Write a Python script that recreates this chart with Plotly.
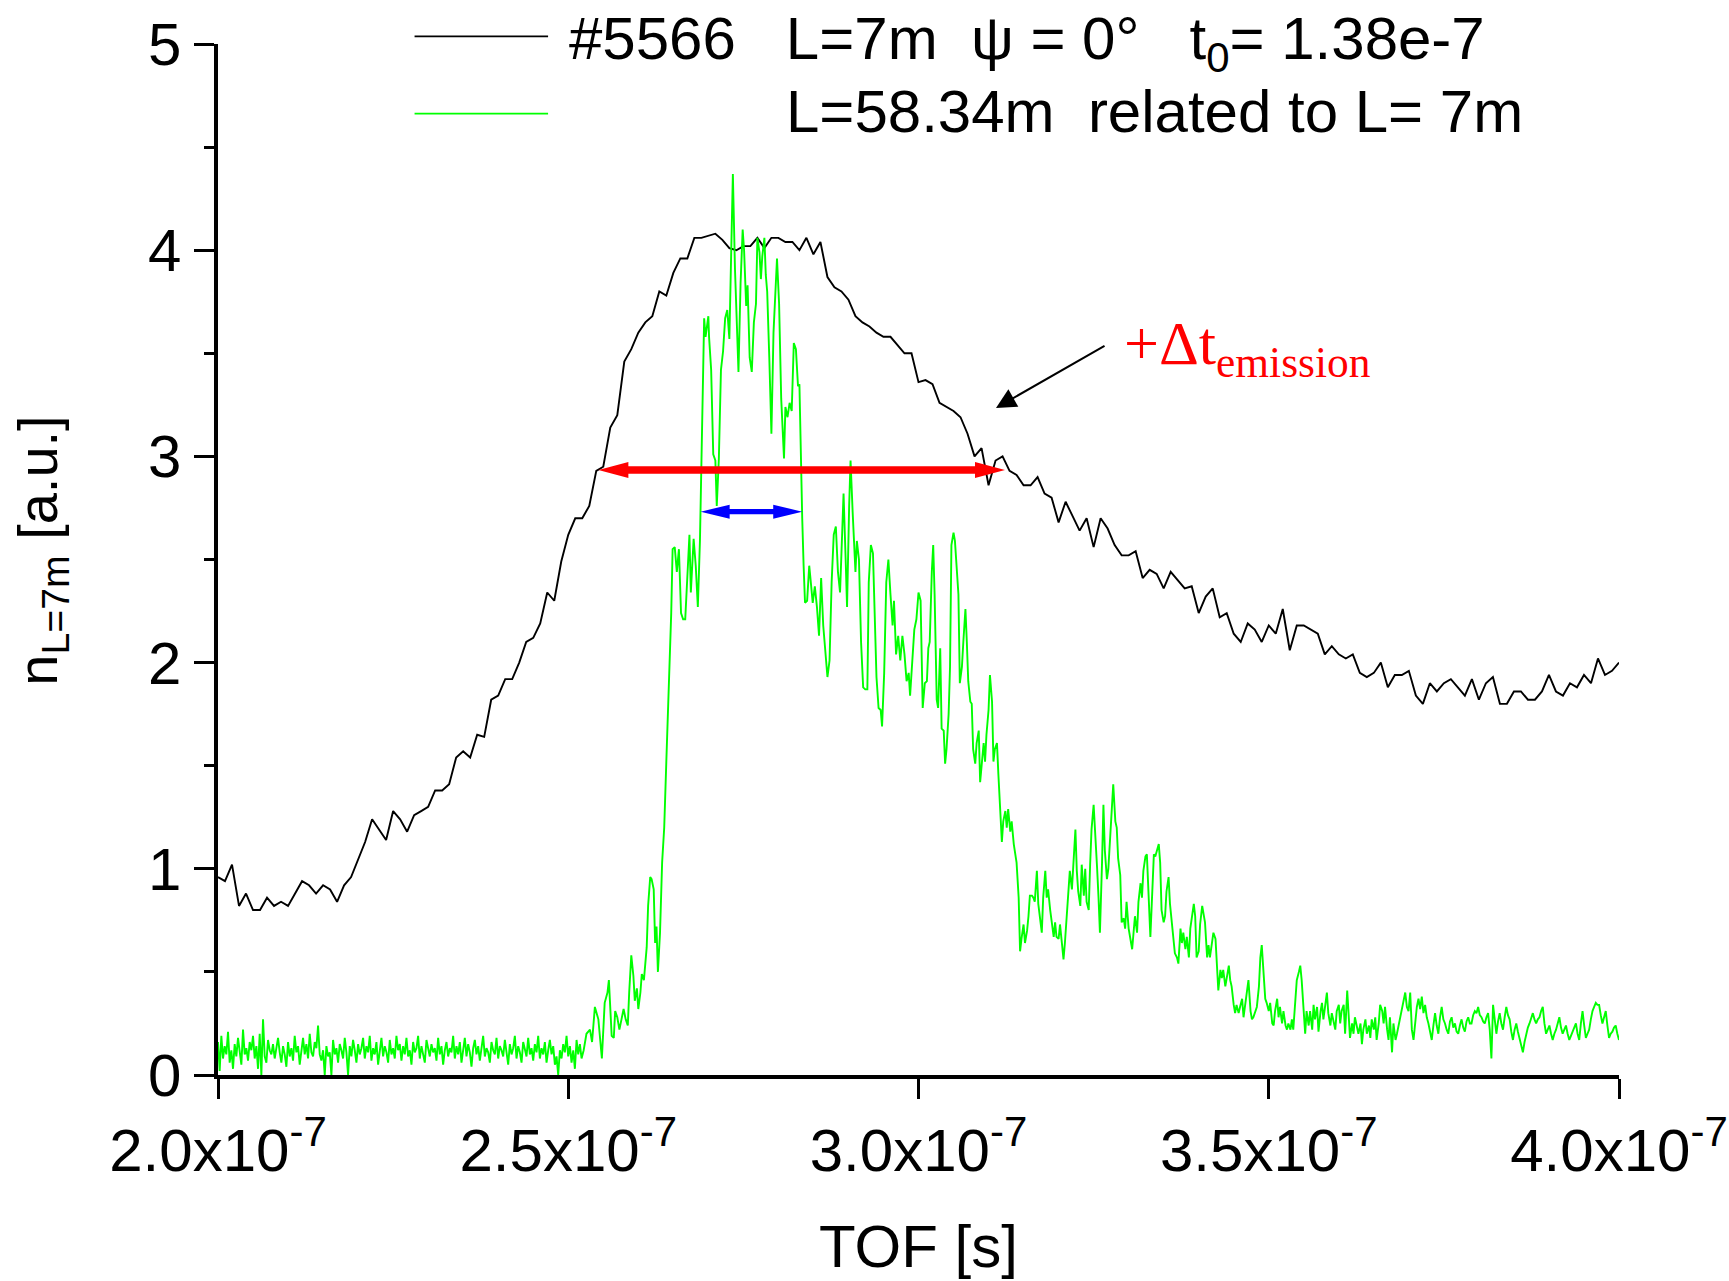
import numpy as np
import plotly.graph_objects as go

# ---------------- data (TOF in units of 1e-7 s) ----------------
# black curve: L = 7 m, sampled every 0.01e-7 s from 2.00e-7 to 4.00e-7 s
black_start, black_step = 2.00, 0.01
black_y = [
    0.96, 0.94, 1.02, 0.82, 0.88, 0.80, 0.80, 0.86, 0.82, 0.84,
    0.82, 0.88, 0.94, 0.92, 0.88, 0.92, 0.90, 0.84, 0.92, 0.96,
    1.05, 1.13, 1.24, 1.19, 1.14, 1.28, 1.24, 1.18, 1.26, 1.28,
    1.30, 1.38, 1.38, 1.41, 1.54, 1.57, 1.54, 1.65, 1.64, 1.82,
    1.84, 1.92, 1.92, 2.00, 2.10, 2.12, 2.19, 2.34, 2.30, 2.49,
    2.62, 2.70, 2.70, 2.76, 2.93, 2.95, 3.14, 3.20, 3.46, 3.52,
    3.60, 3.65, 3.68, 3.80, 3.78, 3.89, 3.96, 3.96, 4.06, 4.06,
    4.07, 4.08, 4.05, 4.01, 4.00, 4.02, 4.02, 4.06, 4.01, 4.06,
    4.06, 4.04, 4.04, 4.00, 4.06, 3.98, 4.04, 3.87, 3.82, 3.80,
    3.76, 3.68, 3.65, 3.63, 3.60, 3.58, 3.58, 3.54, 3.50, 3.50,
    3.36, 3.37, 3.35, 3.26, 3.24, 3.22, 3.19, 3.11, 3.00, 3.04,
    2.86, 2.98, 3.00, 2.93, 2.91, 2.86, 2.86, 2.90, 2.82, 2.80,
    2.68, 2.78, 2.71, 2.64, 2.70, 2.56, 2.70, 2.65, 2.57, 2.52,
    2.52, 2.54, 2.41, 2.45, 2.43, 2.36, 2.44, 2.40, 2.36, 2.37,
    2.24, 2.32, 2.36, 2.22, 2.24, 2.14, 2.10, 2.19, 2.16, 2.10,
    2.18, 2.14, 2.26, 2.06, 2.18, 2.18, 2.16, 2.14, 2.04, 2.08,
    2.04, 2.02, 2.04, 1.95, 1.93, 1.95, 2.00, 1.88, 1.94, 1.94,
    1.96, 1.84, 1.80, 1.90, 1.86, 1.90, 1.92, 1.88, 1.84, 1.92,
    1.82, 1.90, 1.93, 1.80, 1.80, 1.86, 1.86, 1.82, 1.82, 1.86,
    1.94, 1.86, 1.84, 1.90, 1.88, 1.94, 1.90, 2.02, 1.94, 1.96,
    2.00,
]

# green curve: L = 58.34 m related to L = 7 m
# flat part before the rise (2.000 - 2.519)
green_left_range = (2.000, 2.519)
green_left_y = [
    0.16, 0.02, 0.19, 0.08, 0.14, 0.10, 0.21, 0.06, 0.12, 0.03,
    0.15, 0.09, 0.18, 0.11, 0.05, 0.22, 0.10, 0.13, 0.07, 0.16,
    0.12, 0.19, 0.08, 0.14, 0.03, 0.20, 0.00, 0.27, 0.09, 0.06,
    0.17, 0.12, 0.10, 0.15, 0.08, 0.13, 0.18, 0.11, 0.06, 0.14,
    0.10, 0.04, 0.16, 0.09, 0.13, 0.07, 0.19, 0.11, 0.14, 0.05,
    0.12, 0.18, 0.10, 0.15, 0.08, 0.20, 0.11, 0.09, 0.16, 0.13,
    0.24, 0.10, 0.07, 0.12, 0.00, 0.14, 0.09, 0.11, 0.00, 0.17,
    0.10, 0.13, 0.06, 0.15, 0.12, 0.08, 0.18, 0.11, 0.00, 0.14,
    0.09, 0.17, 0.12, 0.06, 0.15, 0.10, 0.13, 0.18, 0.08, 0.14,
    0.11, 0.19, 0.07, 0.13, 0.10, 0.16, 0.05, 0.12, 0.18, 0.09,
    0.14, 0.11, 0.06, 0.17, 0.10, 0.13, 0.08, 0.19, 0.12, 0.15,
    0.07, 0.14, 0.10, 0.18, 0.09, 0.12, 0.05, 0.16, 0.11, 0.13,
    0.19, 0.08, 0.14, 0.10, 0.06, 0.17, 0.12, 0.09, 0.15, 0.11,
    0.13, 0.07, 0.18, 0.10, 0.14, 0.05, 0.12, 0.16, 0.09, 0.13,
    0.11, 0.19, 0.08, 0.14, 0.10, 0.16, 0.06, 0.12, 0.18, 0.09,
    0.15, 0.11, 0.04, 0.13, 0.17, 0.10, 0.14, 0.07, 0.12, 0.19,
    0.09, 0.13, 0.11, 0.06, 0.16, 0.12, 0.10, 0.18, 0.08, 0.14,
    0.12, 0.09, 0.17, 0.11, 0.05, 0.15, 0.10, 0.13, 0.19, 0.08,
    0.14, 0.11, 0.06, 0.16, 0.12, 0.09, 0.18, 0.10, 0.13, 0.07,
    0.15, 0.11, 0.19, 0.08, 0.13, 0.10, 0.16, 0.06, 0.12, 0.17,
    0.10, 0.14, 0.05, 0.09, 0.00, 0.12, 0.08, 0.15, 0.11, 0.19,
    0.09, 0.14, 0.06, 0.12, 0.03, 0.17, 0.10, 0.15, 0.08,
]

# main pulse (t, n) pairs, 2.522 - 3.681
green_pulse = [
    (2.522, 0.12), (2.526, 0.20), (2.531, 0.22), (2.534, 0.16), (2.538, 0.33),
    (2.543, 0.27), (2.548, 0.08), (2.552, 0.35), (2.556, 0.40), (2.558, 0.46),
    (2.562, 0.19), (2.565, 0.18), (2.567, 0.31), (2.570, 0.28), (2.573, 0.22),
    (2.576, 0.27), (2.579, 0.32), (2.582, 0.27), (2.585, 0.24), (2.587, 0.40),
    (2.590, 0.58), (2.593, 0.48), (2.595, 0.36), (2.598, 0.42), (2.600, 0.32),
    (2.603, 0.40), (2.605, 0.49), (2.608, 0.46), (2.610, 0.54), (2.612, 0.62),
    (2.614, 0.82), (2.617, 0.96), (2.619, 0.95), (2.622, 0.90), (2.624, 0.64),
    (2.626, 0.72), (2.628, 0.50), (2.631, 0.69), (2.634, 1.03), (2.637, 1.20),
    (2.640, 1.52), (2.642, 1.72), (2.644, 1.90), (2.647, 2.24), (2.649, 2.55),
    (2.652, 2.56), (2.655, 2.44), (2.658, 2.55), (2.661, 2.24), (2.664, 2.21),
    (2.667, 2.21), (2.671, 2.47), (2.673, 2.62), (2.675, 2.34), (2.679, 2.60),
    (2.682, 2.47), (2.685, 2.27), (2.688, 2.59), (2.692, 3.25), (2.694, 3.67),
    (2.696, 3.58), (2.700, 3.68), (2.701, 3.58), (2.704, 3.42), (2.707, 3.01),
    (2.710, 2.98), (2.712, 2.76), (2.715, 2.99), (2.718, 3.42), (2.721, 3.51),
    (2.724, 3.67), (2.727, 3.71), (2.730, 3.57), (2.732, 3.97), (2.735, 4.37),
    (2.738, 3.91), (2.741, 3.57), (2.743, 3.41), (2.746, 3.84), (2.749, 4.10),
    (2.751, 4.00), (2.754, 3.73), (2.756, 3.83), (2.759, 3.48), (2.762, 3.41),
    (2.765, 3.65), (2.768, 3.74), (2.770, 4.06), (2.773, 3.99), (2.775, 3.86),
    (2.777, 3.97), (2.780, 4.06), (2.782, 3.88), (2.784, 3.80), (2.787, 3.48),
    (2.790, 3.11), (2.793, 3.60), (2.795, 3.78), (2.798, 3.96), (2.801, 3.74),
    (2.804, 3.28), (2.808, 2.99), (2.810, 3.24), (2.813, 3.19), (2.816, 3.26),
    (2.819, 3.22), (2.822, 3.55), (2.825, 3.52), (2.828, 3.34), (2.830, 3.35),
    (2.832, 2.99), (2.834, 2.70), (2.836, 2.47), (2.838, 2.29), (2.841, 2.30),
    (2.844, 2.47), (2.846, 2.40), (2.849, 2.29), (2.852, 2.37), (2.855, 2.27),
    (2.858, 2.13), (2.861, 2.41), (2.864, 2.18), (2.866, 2.10), (2.870, 1.93),
    (2.873, 2.01), (2.876, 2.39), (2.879, 2.62), (2.882, 2.66), (2.885, 2.44),
    (2.888, 2.34), (2.890, 2.53), (2.893, 2.82), (2.896, 2.50), (2.898, 2.27),
    (2.901, 2.76), (2.903, 2.98), (2.906, 2.73), (2.910, 2.44), (2.912, 2.59),
    (2.915, 2.50), (2.918, 2.10), (2.921, 1.88), (2.924, 1.87), (2.927, 1.87),
    (2.929, 2.39), (2.932, 2.57), (2.935, 2.53), (2.938, 2.23), (2.940, 1.93),
    (2.943, 1.78), (2.946, 1.77), (2.948, 1.69), (2.951, 1.95), (2.954, 2.39),
    (2.957, 2.50), (2.960, 2.33), (2.963, 2.18), (2.965, 2.30), (2.968, 2.04),
    (2.971, 2.13), (2.974, 2.01), (2.977, 2.13), (2.980, 2.04), (2.983, 1.91),
    (2.986, 1.95), (2.988, 1.84), (2.991, 1.98), (2.994, 2.16), (2.997, 2.21),
    (3.000, 2.34), (3.003, 2.30), (3.006, 1.78), (3.009, 1.90), (3.012, 1.91),
    (3.014, 2.07), (3.016, 2.10), (3.019, 2.44), (3.021, 2.57), (3.023, 2.33),
    (3.026, 1.82), (3.028, 1.78), (3.031, 2.07), (3.033, 1.68), (3.036, 1.67),
    (3.038, 1.51), (3.040, 1.58), (3.043, 1.75), (3.045, 1.98), (3.047, 2.57),
    (3.050, 2.63), (3.052, 2.59), (3.055, 2.41), (3.057, 2.33), (3.059, 1.90),
    (3.062, 1.98), (3.064, 2.10), (3.067, 2.26), (3.069, 2.10), (3.071, 1.91),
    (3.074, 1.81), (3.076, 1.80), (3.078, 1.58), (3.081, 1.51), (3.083, 1.61),
    (3.086, 1.67), (3.088, 1.42), (3.090, 1.51), (3.093, 1.61), (3.095, 1.52),
    (3.097, 1.65), (3.100, 1.77), (3.102, 1.94), (3.105, 1.81), (3.107, 1.52),
    (3.109, 1.58), (3.112, 1.61), (3.114, 1.46), (3.116, 1.32), (3.119, 1.13),
    (3.121, 1.23), (3.124, 1.28), (3.126, 1.20), (3.128, 1.29), (3.131, 1.18),
    (3.133, 1.23), (3.136, 1.12), (3.138, 1.06), (3.140, 1.03), (3.143, 0.86),
    (3.145, 0.60), (3.147, 0.66), (3.150, 0.73), (3.152, 0.64), (3.155, 0.70),
    (3.157, 0.77), (3.159, 0.87), (3.162, 0.87), (3.164, 0.86), (3.166, 0.84),
    (3.169, 0.99), (3.171, 0.83), (3.174, 0.74), (3.176, 0.69), (3.178, 0.86),
    (3.181, 0.99), (3.183, 0.86), (3.185, 0.90), (3.188, 0.80), (3.190, 0.74),
    (3.193, 0.67), (3.195, 0.74), (3.197, 0.67), (3.200, 0.66), (3.202, 0.73),
    (3.205, 0.63), (3.207, 0.56), (3.209, 0.64), (3.212, 0.80), (3.214, 0.90),
    (3.216, 0.99), (3.219, 0.90), (3.221, 1.03), (3.224, 1.19), (3.226, 0.99),
    (3.228, 0.89), (3.231, 0.82), (3.233, 1.02), (3.236, 0.87), (3.238, 1.00),
    (3.240, 0.84), (3.243, 0.80), (3.245, 1.02), (3.247, 1.19), (3.250, 1.31),
    (3.252, 1.20), (3.255, 1.00), (3.257, 0.86), (3.259, 0.69), (3.262, 1.03),
    (3.264, 1.31), (3.266, 1.09), (3.269, 0.95), (3.271, 1.00), (3.274, 1.19),
    (3.276, 1.31), (3.278, 1.41), (3.281, 1.23), (3.283, 1.20), (3.285, 1.05),
    (3.288, 0.97), (3.290, 0.74), (3.293, 0.76), (3.295, 0.71), (3.297, 0.84),
    (3.300, 0.71), (3.302, 0.66), (3.305, 0.61), (3.307, 0.69), (3.309, 0.77),
    (3.312, 0.69), (3.314, 0.84), (3.317, 0.93), (3.319, 0.86), (3.321, 0.99),
    (3.324, 1.06), (3.326, 1.07), (3.328, 0.92), (3.331, 0.67), (3.333, 0.83),
    (3.336, 1.07), (3.338, 1.06), (3.340, 1.09), (3.343, 1.12), (3.345, 1.03),
    (3.347, 0.80), (3.350, 0.74), (3.352, 0.77), (3.354, 0.89), (3.357, 0.96),
    (3.359, 0.83), (3.362, 0.71), (3.364, 0.66), (3.366, 0.59), (3.369, 0.57),
    (3.371, 0.54), (3.374, 0.71), (3.376, 0.64), (3.378, 0.69), (3.381, 0.61),
    (3.383, 0.67), (3.386, 0.57), (3.388, 0.71), (3.390, 0.77), (3.393, 0.83),
    (3.395, 0.77), (3.397, 0.57), (3.400, 0.60), (3.402, 0.73), (3.405, 0.82),
    (3.407, 0.77), (3.409, 0.74), (3.412, 0.57), (3.414, 0.63), (3.416, 0.57),
    (3.419, 0.66), (3.421, 0.69), (3.424, 0.66), (3.426, 0.53), (3.428, 0.41),
    (3.431, 0.51), (3.433, 0.47), (3.435, 0.51), (3.438, 0.43), (3.440, 0.47),
    (3.443, 0.53), (3.445, 0.46), (3.447, 0.43), (3.450, 0.34), (3.452, 0.30),
    (3.454, 0.34), (3.457, 0.30), (3.459, 0.33), (3.462, 0.37), (3.464, 0.28),
    (3.466, 0.34), (3.469, 0.40), (3.471, 0.46), (3.474, 0.31), (3.476, 0.27),
    (3.478, 0.28), (3.481, 0.31), (3.483, 0.33), (3.486, 0.43), (3.488, 0.57),
    (3.490, 0.63), (3.493, 0.48), (3.495, 0.37), (3.497, 0.35), (3.500, 0.31),
    (3.502, 0.35), (3.505, 0.25), (3.507, 0.24), (3.509, 0.31), (3.512, 0.37),
    (3.514, 0.28), (3.516, 0.33), (3.519, 0.25), (3.521, 0.31), (3.524, 0.24),
    (3.526, 0.22), (3.528, 0.25), (3.531, 0.22), (3.533, 0.27), (3.535, 0.22),
    (3.538, 0.37), (3.540, 0.46), (3.543, 0.50), (3.545, 0.53), (3.547, 0.46),
    (3.550, 0.28), (3.552, 0.20), (3.554, 0.31), (3.557, 0.24), (3.559, 0.31),
    (3.562, 0.22), (3.564, 0.34), (3.566, 0.27), (3.569, 0.33), (3.571, 0.21),
    (3.574, 0.31), (3.576, 0.35), (3.578, 0.27), (3.581, 0.34), (3.583, 0.40),
    (3.585, 0.30), (3.588, 0.24), (3.590, 0.30), (3.593, 0.25), (3.595, 0.22),
    (3.597, 0.31), (3.600, 0.34), (3.602, 0.25), (3.604, 0.31), (3.607, 0.34),
    (3.609, 0.20), (3.612, 0.41), (3.614, 0.28), (3.616, 0.18), (3.619, 0.25),
    (3.621, 0.20), (3.623, 0.28), (3.626, 0.22), (3.628, 0.20), (3.631, 0.25),
    (3.633, 0.15), (3.635, 0.22), (3.638, 0.27), (3.640, 0.20), (3.643, 0.24),
    (3.645, 0.18), (3.647, 0.27), (3.650, 0.22), (3.652, 0.28), (3.654, 0.17),
    (3.657, 0.25), (3.659, 0.34), (3.662, 0.31), (3.664, 0.25), (3.666, 0.33),
    (3.669, 0.22), (3.671, 0.17), (3.673, 0.28), (3.676, 0.11), (3.678, 0.25),
    (3.681, 0.17),
]

# tail after the pulse (3.683 - 4.000)
green_right_range = (3.683, 4.000)
green_right_y = [
    0.20, 0.24, 0.28, 0.33, 0.37, 0.40, 0.33, 0.31, 0.40, 0.22,
    0.17, 0.26, 0.33, 0.37, 0.32, 0.38, 0.30, 0.34, 0.28, 0.25,
    0.21, 0.17, 0.24, 0.30, 0.24, 0.20, 0.28, 0.33, 0.27, 0.25,
    0.22, 0.20, 0.26, 0.28, 0.23, 0.25, 0.21, 0.20, 0.24, 0.27,
    0.23, 0.21, 0.26, 0.28, 0.25, 0.25, 0.29, 0.31, 0.30, 0.33,
    0.29, 0.28, 0.26, 0.25, 0.28, 0.30, 0.22, 0.08, 0.34, 0.26,
    0.20, 0.26, 0.30, 0.25, 0.22, 0.28, 0.33, 0.29, 0.27, 0.21,
    0.17, 0.22, 0.25, 0.21, 0.18, 0.14, 0.11, 0.16, 0.20, 0.23,
    0.25, 0.28, 0.30, 0.27, 0.25, 0.27, 0.28, 0.31, 0.33, 0.25,
    0.20, 0.22, 0.24, 0.20, 0.17, 0.20, 0.22, 0.25, 0.28, 0.23,
    0.20, 0.22, 0.24, 0.20, 0.17, 0.19, 0.21, 0.23, 0.25, 0.20,
    0.17, 0.25, 0.31, 0.24, 0.18, 0.20, 0.22, 0.27, 0.31, 0.33,
    0.35, 0.34, 0.34, 0.29, 0.25, 0.28, 0.31, 0.24, 0.18, 0.20,
    0.21, 0.23, 0.24, 0.20, 0.17,
]

x_tick_vals = [2.0, 2.5, 3.0, 3.5, 4.0]
x_tick_text = ["2.0x10<sup>-7</sup>", "2.5x10<sup>-7</sup>", "3.0x10<sup>-7</sup>",
               "3.5x10<sup>-7</sup>", "4.0x10<sup>-7</sup>"]
y_tick_vals = [0, 1, 2, 3, 4, 5]

# annotation arrows (TOF in 1e-7 s, n)
red_arrow = dict(x0=2.543, x1=3.1235, y=2.934)
blue_arrow = dict(x0=2.689, x1=2.834, y=2.732)
black_arrow = dict(x_tail=3.2677, y_tail=3.540, x_head=3.1106, y_head=3.235)

# ---------------- build series ----------------
black_t = black_start + black_step * np.arange(len(black_y))
green_t = np.concatenate([
    np.linspace(*green_left_range, len(green_left_y)),
    np.array([p[0] for p in green_pulse]),
    np.linspace(*green_right_range, len(green_right_y)),
])
green_y = np.concatenate([
    np.array(green_left_y),
    np.array([p[1] for p in green_pulse]),
    np.array(green_right_y),
])

# page body margin is removed by a post script, so the figure fills the window
W, H = 1729, 1281
ML, MR, MT, MB = 218, 110, 44, 206
PW, PH = W - ML - MR, H - MT - MB
XR, YR = (2.0, 4.0), (0.0, 5.0)

SANS = "Liberation Sans, Arial, Helvetica, sans-serif"
SERIF = "Liberation Serif, Times New Roman, serif"
FS = 60


def dbl_arrow_path(x0, x1, y, shaft_px, head_len_px, head_w_px):
    ux = (XR[1] - XR[0]) / PW
    uy = (YR[1] - YR[0]) / PH
    hl = head_len_px * ux
    hs = shaft_px / 2 * uy
    hw = head_w_px / 2 * uy
    pts = [(x0, y), (x0 + hl, y + hw), (x0 + hl, y + hs), (x1 - hl, y + hs),
           (x1 - hl, y + hw), (x1, y), (x1 - hl, y - hw), (x1 - hl, y - hs),
           (x0 + hl, y - hs), (x0 + hl, y - hw)]
    return "M" + " L".join(f"{a:.5f},{b:.5f}" for a, b in pts) + " Z"


fig = go.Figure()
fig.add_trace(go.Scatter(x=black_t, y=black_y, mode="lines",
                         line=dict(color="black", width=1.9),
                         name="#5566 L=7m", showlegend=False))
fig.add_trace(go.Scatter(x=green_t, y=green_y, mode="lines",
                         line=dict(color="#00ff00", width=1.9),
                         name="L=58.34m", showlegend=False))

shapes = [
    dict(type="path", xref="x", yref="y", line=dict(width=0), fillcolor="#ff0000",
         path=dbl_arrow_path(red_arrow["x0"], red_arrow["x1"], red_arrow["y"], 7.5, 30, 16)),
    dict(type="path", xref="x", yref="y", line=dict(width=0), fillcolor="#0000ff",
         path=dbl_arrow_path(blue_arrow["x0"], blue_arrow["x1"], blue_arrow["y"], 5.3, 29, 14)),
    # legend samples
    dict(type="line", xref="paper", yref="paper", x0=0.1403, x1=0.2356, y0=1.0074, y1=1.0074,
         line=dict(color="black", width=1.6)),
    dict(type="line", xref="paper", yref="paper", x0=0.1403, x1=0.2356, y0=0.9325, y1=0.9325,
         line=dict(color="#00ff00", width=1.6)),
]

sp = "\u00a0"
annotations = [
    dict(xref="paper", yref="paper", x=0.2490, y=1.040, xanchor="left", yanchor="top",
         showarrow=False, font=dict(family=SANS, size=FS, color="black"),
         text=f"#5566{sp*3}L=7m{sp*2}ψ = 0°{sp*3}t<sub>0</sub>= 1.38e-7"),
    dict(xref="paper", yref="paper", x=0.4040, y=0.969, xanchor="left", yanchor="top",
         showarrow=False, font=dict(family=SANS, size=FS, color="black"),
         text=f"L=58.34m{sp*2}related to L= 7m"),
    dict(xref="paper", yref="paper", x=-0.126, y=0.509, xanchor="center", yanchor="middle",
         showarrow=False, textangle=-90, font=dict(family=SANS, size=56, color="black"),
         text="n<sub>L=7m</sub> [a.u.]"),
    dict(xref="paper", yref="paper", x=0.5, y=-0.166, xanchor="center", yanchor="middle",
         showarrow=False, font=dict(family=SANS, size=FS, color="black"),
         text="TOF [s]"),
    dict(xref="paper", yref="paper", x=0.6456, y=0.745, xanchor="left", yanchor="top",
         showarrow=False, font=dict(family=SERIF, size=62, color="#ff0000"),
         text="+Δt<sub>emission</sub>"),
    dict(xref="x", yref="y", axref="x", ayref="y",
         x=black_arrow["x_head"], y=black_arrow["y_head"],
         ax=black_arrow["x_tail"], ay=black_arrow["y_tail"],
         text="", showarrow=True, arrowhead=2, arrowsize=2, arrowwidth=2,
         arrowcolor="black", standoff=0),
]

fig.update_layout(
    width=W, height=H, autosize=False,
    margin=dict(l=ML, r=MR, t=MT, b=MB, pad=0, autoexpand=False),
    paper_bgcolor="white", plot_bgcolor="white",
    showlegend=False,
    shapes=shapes, annotations=annotations,
    xaxis=dict(range=list(XR), tickvals=x_tick_vals, ticktext=x_tick_text,
               ticks="outside", ticklen=20, tickwidth=2.5, tickcolor="black",
               showline=True, linewidth=3.5, linecolor="black", mirror=False,
               showgrid=False, zeroline=False, automargin=False,
               tickfont=dict(family=SANS, size=FS, color="black")),
    yaxis=dict(range=list(YR), tickvals=y_tick_vals,
               ticks="outside", ticklen=20, tickwidth=3, tickcolor="black",
               minor=dict(dtick=0.5, ticks="outside", ticklen=10, tickwidth=3,
                          tickcolor="black", showgrid=False),
               showline=True, linewidth=3.5, linecolor="black", mirror=False,
               showgrid=False, zeroline=False, ticklabelstandoff=1, automargin=False,
               tickfont=dict(family=SANS, size=FS, color="black")),
)

fig.write_html("out.html", config={"displayModeBar": False},
               post_script="document.body.style.margin='0';document.body.style.overflow='hidden';")
